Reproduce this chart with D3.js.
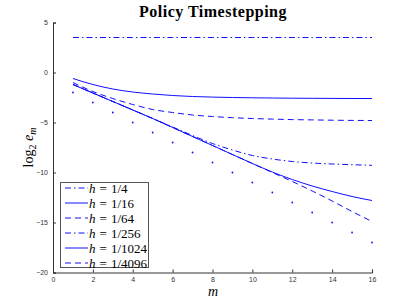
<!DOCTYPE html>
<html>
<head>
<meta charset="utf-8">
<script src="https://cdn.jsdelivr.net/npm/d3@7"></script>
<style>
  body { margin: 0; background: #fff; }
  svg { display: block; }
  .tick text { font-family: "Liberation Sans", Arial, sans-serif; font-size: 7px; fill: #333; }
  .axis path, .axis line { stroke: #333; }
</style>
</head>
<body>
<script>
// iteration index
const m = d3.range(1, 17);

// log2 error per grid size
const h4    = [3.5, 3.5, 3.5, 3.5, 3.5, 3.5, 3.5, 3.5, 3.5, 3.5, 3.5, 3.5, 3.5, 3.5, 3.5, 3.5];
const h16   = [-0.6, -1.2, -1.65, -1.95, -2.15, -2.3, -2.4, -2.46, -2.5, -2.53, -2.55, -2.57, -2.58, -2.59, -2.6, -2.6];
const h64   = [-1.0, -1.9, -2.6, -3.2, -3.7, -4.0, -4.25, -4.4, -4.52, -4.6, -4.66, -4.71, -4.74, -4.77, -4.79, -4.8];
const h256  = [-1.2, -2.05, -2.9, -3.75, -4.6, -5.45, -6.3, -7.1, -7.75, -8.3, -8.65, -8.9, -9.05, -9.15, -9.22, -9.28];
const h1024 = [-1.2, -2.05, -2.9, -3.75, -4.6, -5.5, -6.4, -7.3, -8.2, -9.1, -9.95, -10.7, -11.35, -11.9, -12.4, -12.8];
const h4096 = [-1.2, -2.05, -2.9, -3.75, -4.6, -5.5, -6.4, -7.3, -8.2, -9.1, -10.0, -10.9, -11.85, -12.85, -13.9, -14.9];
// reference rate, drawn as dots
const ref   = [-2, -3, -4, -5, -6, -7, -8, -9, -10, -11, -12, -13, -14, -15, -16, -17];

const labels = ["1/4", "1/16", "1/64", "1/256", "1/1024", "1/4096"];
const xTicks = [0, 2, 4, 6, 8, 10, 12, 14, 16];
const yTicks = [-20, -15, -10, -5, 0, 5];

const W = 411, H = 308;
const margin = { left: 53, right: 39, top: 22.5, bottom: 35.5 };

const svg = d3.select("body").append("svg")
    .attr("width", W)
    .attr("height", H);

const x = d3.scaleLinear().domain([0, 16]).range([margin.left, W - margin.right]);
const y = d3.scaleLinear().domain([-20, 5]).range([H - margin.bottom, margin.top]);

// axes, ticks point inward
svg.append("g")
    .attr("class", "axis")
    .attr("transform", `translate(0,${H - margin.bottom})`)
    .call(d3.axisBottom(x).tickValues(xTicks).tickSize(-3).tickPadding(5));

svg.append("g")
    .attr("class", "axis")
    .attr("transform", `translate(${margin.left},0)`)
    .call(d3.axisLeft(y).tickValues(yTicks).tickSize(-3).tickPadding(5));

svg.selectAll(".axis .domain").attr("stroke-width", 1);

const blue = "#1010ff";
const series = [
    { vals: h4,    dash: "6,3,1.5,3" },
    { vals: h16,   dash: null },
    { vals: h64,   dash: "6,4" },
    { vals: h256,  dash: "6,3,1.5,3" },
    { vals: h1024, dash: null },
    { vals: h4096, dash: "6,4" }
];

const line = d3.line()
    .x((d, i) => x(m[i]))
    .y(d => y(d))
    .curve(d3.curveMonotoneX);

svg.selectAll(".series")
    .data(series)
    .enter()
    .append("path")
    .attr("class", "series")
    .attr("fill", "none")
    .attr("stroke", blue)
    .attr("stroke-width", 1)
    .attr("stroke-dasharray", d => d.dash)
    .attr("d", d => line(d.vals));

svg.selectAll(".refdot")
    .data(ref)
    .enter()
    .append("circle")
    .attr("class", "refdot")
    .attr("cx", (d, i) => x(m[i]))
    .attr("cy", d => y(d))
    .attr("r", 0.9)
    .attr("fill", blue);

// title and axis labels
svg.append("text")
    .attr("x", 213)
    .attr("y", 17)
    .attr("text-anchor", "middle")
    .attr("font-family", "Liberation Serif, serif")
    .attr("font-weight", "bold")
    .attr("font-size", 16)
    .attr("letter-spacing", 0.5)
    .text("Policy Timestepping");

svg.append("text")
    .attr("x", 213)
    .attr("y", 296)
    .attr("text-anchor", "middle")
    .attr("font-family", "Liberation Serif, serif")
    .attr("font-style", "italic")
    .attr("font-size", 14)
    .text("m");

const ylab = svg.append("text")
    .attr("transform", `translate(33,${(margin.top + H - margin.bottom) / 2})rotate(-90)`)
    .attr("text-anchor", "middle")
    .attr("font-family", "Liberation Serif, serif")
    .attr("font-size", 14);
ylab.append("tspan").text("log");
ylab.append("tspan").attr("font-size", 10).attr("dy", 3).text("2");
ylab.append("tspan").attr("dy", -3).text(" ");
ylab.append("tspan").attr("font-style", "italic").text("e");
ylab.append("tspan").attr("font-style", "italic").attr("font-size", 10).attr("dy", 3).text("m");

// legend
const lg = svg.append("g").attr("transform", "translate(60,182)");
lg.append("rect")
    .attr("x", 0.5).attr("y", 0.5)
    .attr("width", 88).attr("height", 85)
    .attr("fill", "#fff")
    .attr("stroke", "#555")
    .attr("stroke-width", 1);

const item = lg.selectAll(".legend-item")
    .data(series)
    .enter()
    .append("g")
    .attr("class", "legend-item")
    .attr("transform", (d, i) => `translate(0,${6 + i * 15})`);

item.append("line")
    .attr("x1", 5).attr("x2", 28)
    .attr("y1", 0).attr("y2", 0)
    .attr("stroke", blue)
    .attr("stroke-width", 1)
    .attr("stroke-dasharray", d => d.dash);

const lt = item.append("text")
    .attr("y", 4.5)
    .attr("font-family", "Liberation Serif, serif")
    .attr("font-size", 13);
lt.append("tspan").attr("x", 29).attr("font-style", "italic").text("h");
lt.append("tspan").attr("x", 39.5).text("=");
lt.append("tspan").attr("x", 51).text((d, i) => labels[i]);
</script>
</body>
</html>
